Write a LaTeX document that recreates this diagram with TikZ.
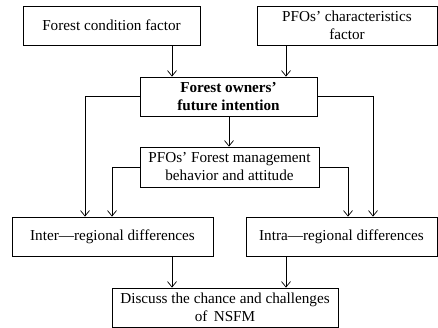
\documentclass[tikz,border=0pt]{standalone}
\usepackage{fontspec}
\setmainfont{Liberation Serif}
\usetikzlibrary{arrows.meta}

\begin{document}
\begin{tikzpicture}[
  x=1pt, y=-1pt,
  box/.style={draw, line width=0.8pt, minimum height=39pt, align=center, inner sep=2pt,
    font=\fontsize{15.2}{18}\selectfont},
  >={Straight Barb[length=5.5pt,width=9pt]},
  conn/.style={->, line width=0.7pt}
]
  \useasboundingbox (0,0) rectangle (438,328);

  \node[box, minimum width=177pt] (fc) at (111.5,25.5) {Forest condition factor};
  \node[box, minimum width=180pt] (pc) at (347,25.5) {PFOs’ characteristics\\factor};
  \node[box, minimum width=177pt, font=\fontsize{15.2}{18}\selectfont\bfseries] (fo) at (228.5,96.5) {Forest owners’\\future intention};
  \node[box, minimum width=179pt, minimum height=40pt] (pm) at (229.5,167) {PFOs’ Forest management\\behavior and attitude};
  \node[box, minimum width=201pt] (ir) at (112.5,236.5) {Inter—regional differences};
  \node[box, minimum width=191pt] (ar) at (341.5,236.5) {Intra—regional differences};
  \node[box, minimum width=226pt] (nd) at (225,307.5) {Discuss the chance and challenges\\of\, NSFM};

  % factors into intention
  \draw[conn] (fc.south -| 172,0) -- (fo.north -| 172,0);
  \draw[conn] (pc.south -| 286,0) -- (fo.north -| 286,0);
  \draw[conn] (fo.south -| 229,0) -- (pm.north -| 229,0);

  % side branches
  \draw[conn] (fo.west) -| (ir.north -| 85,0);
  \draw[conn] (pm.west) -| (ir.north -| 112,0);
  \draw[conn] (pm.east) -| (ar.north -| 348,0);
  \draw[conn] (fo.east) -| (ar.north -| 373,0);

  % differences into discussion
  \draw[conn] (ir.south -| 172,0) -- (nd.north -| 172,0);
  \draw[conn] (ar.south -| 286,0) -- (nd.north -| 286,0);
\end{tikzpicture}
\end{document}
